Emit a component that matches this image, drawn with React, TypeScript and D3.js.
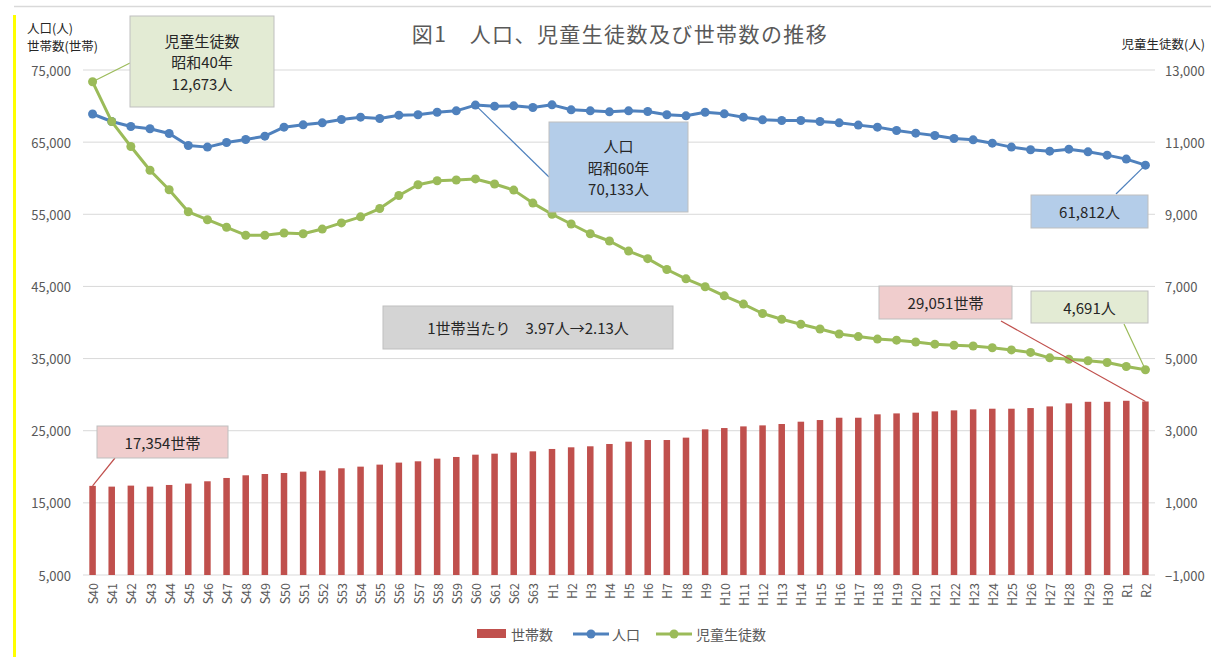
import React from 'react';
import * as d3 from 'd3';

const categories = [
  'S40', 'S41', 'S42', 'S43', 'S44', 'S45', 'S46', 'S47', 'S48', 'S49',
  'S50', 'S51', 'S52', 'S53', 'S54', 'S55', 'S56', 'S57', 'S58', 'S59',
  'S60', 'S61', 'S62', 'S63', 'H1', 'H2', 'H3', 'H4', 'H5', 'H6',
  'H7', 'H8', 'H9', 'H10', 'H11', 'H12', 'H13', 'H14', 'H15', 'H16',
  'H17', 'H18', 'H19', 'H20', 'H21', 'H22', 'H23', 'H24', 'H25', 'H26',
  'H27', 'H28', 'H29', 'H30', 'R1', 'R2',
];

// 世帯数 (left axis)
const households = [
  17354, 17250, 17390, 17250, 17480, 17670, 17990, 18450, 18820, 19000,
  19140, 19330, 19470, 19790, 20020, 20300, 20580, 20760, 21130, 21360,
  21680, 21820, 21960, 22140, 22470, 22700, 22840, 23160, 23480, 23710,
  23710, 24040, 25190, 25370, 25600, 25740, 25930, 26250, 26480, 26800,
  26800, 27270, 27400, 27500, 27680, 27820, 27960, 28050, 28050, 28140,
  28370, 28790, 29010, 29010, 29150, 29051,
];

// 人口 (left axis)
const population = [
  68900, 67860, 67170, 66850, 66200, 64540, 64310, 64950, 65370, 65830,
  67080, 67400, 67680, 68140, 68460, 68280, 68740, 68790, 69150, 69340,
  70133, 69990, 70030, 69800, 70170, 69480, 69340, 69200, 69340, 69250,
  68790, 68650, 69150, 68920, 68460, 68090, 68000, 68000, 67860, 67680,
  67360, 67080, 66620, 66250, 65920, 65510, 65320, 64860, 64310, 63940,
  63750, 64030, 63660, 63200, 62650, 61812,
];

// 児童生徒数 (right axis)
const students = [
  12673, 11570, 10880, 10220, 9680, 9070, 8850, 8640, 8420, 8420,
  8480, 8460, 8590, 8760, 8930, 9160, 9520, 9820, 9930, 9950,
  9980, 9840, 9670, 9310, 9000, 8730, 8460, 8260, 7980, 7770,
  7470, 7210, 6990, 6740, 6510, 6250, 6090, 5950, 5820, 5680,
  5610, 5540, 5510, 5460, 5400, 5370, 5350, 5300, 5240, 5170,
  5020, 4980, 4940, 4890, 4780, 4691,
];

const leftTicks = [5000, 15000, 25000, 35000, 45000, 55000, 65000, 75000];
const rightTicks = [-1000, 1000, 3000, 5000, 7000, 9000, 11000, 13000];

const RED = '#c0504d';
const BLUE = '#4f81bd';
const GREEN = '#9bbb59';
const TEXT = '#595959';
const FONT = '"Noto Sans CJK JP", "Noto Sans", sans-serif';

const W = 1211;
const H = 657;
const plot = { left: 83, right: 1155, top: 70, bottom: 575 };

const fmt = d3.format(',');

const App = () => {
  const x = d3.scaleBand<string>().domain(categories).range([plot.left, plot.right]);
  const yL = d3.scaleLinear().domain([5000, 75000]).range([plot.bottom, plot.top]);
  const yR = d3.scaleLinear().domain([-1000, 13000]).range([plot.bottom, plot.top]);
  const cx = (c: string) => (x(c) as number) + x.bandwidth() / 2;
  const barW = x.bandwidth() * 0.34;

  const popLine = d3.line<number>().x((_, i) => cx(categories[i])).y(d => yL(d));
  const stuLine = d3.line<number>().x((_, i) => cx(categories[i])).y(d => yR(d));

  const last = categories.length - 1;
  const first = categories[0];
  const lastCat = categories[last];
  const s60 = categories.indexOf('S60');

  const box = (
    bx: number, by: number, bw: number, bh: number, fill: string,
    lines: string[], lineGap = 21.5,
  ) => {
    const midY = by + bh / 2;
    const startY = midY - ((lines.length - 1) * lineGap) / 2;
    return (
      <g>
        <rect x={bx} y={by} width={bw} height={bh} fill={fill} stroke="#bfbfbf" strokeWidth={1} />
        {lines.map((t, i) => (
          <text key={i} x={bx + bw / 2} y={startY + i * lineGap} textAnchor="middle"
            dominantBaseline="central" fontSize={15} fill="#262626">{t}</text>
        ))}
      </g>
    );
  };

  return (
    <svg width={W} height={H} style={{ position: 'absolute', left: 0, top: 0, background: '#fff' }}
      fontFamily={FONT}>
      {/* frame */}
      <line x1={14} x2={W} y1={6.5} y2={6.5} stroke="#d9d9d9" strokeWidth={1.5} />
      <rect x={13} y={15} width={3} height={H - 15} fill="#ffff00" />

      {/* title */}
      <text x={620} y={33} textAnchor="middle" dominantBaseline="central" fontSize={21}
        fill={TEXT} letterSpacing={1.4}>図1　人口、児童生徒数及び世帯数の推移</text>

      {/* axis titles */}
      <text x={27} y={27.5} fontSize={12.5} fill="#262626" dominantBaseline="central">人口(人)</text>
      <text x={27} y={45} fontSize={12.5} fill="#262626" dominantBaseline="central">世帯数(世帯)</text>
      <text x={1205} y={43} fontSize={12.5} fill="#262626" textAnchor="end" dominantBaseline="central">児童生徒数(人)</text>

      {/* gridlines + ticks */}
      {leftTicks.map(t => (
        <g key={t}>
          <line x1={plot.left} x2={plot.right} y1={yL(t)} y2={yL(t)} stroke="#d9d9d9" strokeWidth={1} />
          <text x={71} y={yL(t)} textAnchor="end" dominantBaseline="central" fontSize={13} fill={TEXT}>{fmt(t)}</text>
        </g>
      ))}
      {rightTicks.map(t => (
        <text key={t} x={1165} y={yR(t)} dominantBaseline="central" fontSize={13} fill={TEXT}>{fmt(t)}</text>
      ))}

      {/* bars */}
      {households.map((v, i) => (
        <rect key={categories[i]} x={cx(categories[i]) - barW / 2} y={yL(v)} width={barW}
          height={yL(5000) - yL(v)} fill={RED} />
      ))}

      {/* x labels */}
      {categories.map(c => (
        <text key={c} transform={`translate(${cx(c)},${plot.bottom + 8}) rotate(-90)`}
          textAnchor="end" dominantBaseline="central" fontSize={12.5} fill={TEXT}>{c}</text>
      ))}

      {/* lines */}
      <path d={popLine(population) as string} fill="none" stroke={BLUE} strokeWidth={3} strokeLinejoin="round" />
      {population.map((v, i) => (
        <circle key={categories[i]} cx={cx(categories[i])} cy={yL(v)} r={4.5} fill={BLUE} />
      ))}
      <path d={stuLine(students) as string} fill="none" stroke={GREEN} strokeWidth={3} strokeLinejoin="round" />
      {students.map((v, i) => (
        <circle key={categories[i]} cx={cx(categories[i])} cy={yR(v)} r={4.5} fill={GREEN} />
      ))}

      {/* leader lines */}
      <line x1={cx(first)} y1={yR(students[0])} x2={130} y2={63} stroke={GREEN} strokeWidth={1.2} />
      <line x1={cx(categories[s60])} y1={yL(population[s60])} x2={549} y2={177} stroke={BLUE} strokeWidth={1.2} />
      <line x1={cx(lastCat)} y1={yL(population[last])} x2={1116} y2={194} stroke={BLUE} strokeWidth={1.2} />
      <line x1={cx(lastCat)} y1={yL(households[last])} x2={1001} y2={321} stroke={RED} strokeWidth={1.2} />
      <line x1={cx(lastCat)} y1={yR(students[last])} x2={1124} y2={324} stroke={GREEN} strokeWidth={1.2} />
      <line x1={cx(first)} y1={yL(households[0])} x2={115} y2={458} stroke={RED} strokeWidth={1.2} />

      {/* annotation boxes */}
      {box(130, 16, 144, 91, '#e3ebd4', ['児童生徒数', '昭和40年', `${fmt(students[0])}人`])}
      {box(549, 122, 139, 90, '#b4cde9', ['人口', '昭和60年', `${fmt(population[s60])}人`])}
      {box(1031, 195, 117, 33, '#b4cde9', [`${fmt(population[last])}人`])}
      {box(383, 306, 290, 43, '#d4d4d4', ['1世帯当たり　3.97人→2.13人'])}
      {box(879, 286, 133, 33, '#f0cdcd', [`${fmt(households[last])}世帯`])}
      {box(1031, 291, 117, 32, '#e3ebd4', [`${fmt(students[last])}人`])}
      {box(97, 426, 131, 32, '#f0cdcd', [`${fmt(households[0])}世帯`])}

      {/* legend */}
      <rect x={477} y={629} width={29} height={9} fill={RED} />
      <text x={511} y={634} dominantBaseline="central" fontSize={14} fill={TEXT}>世帯数</text>
      <line x1={573} x2={609} y1={634} y2={634} stroke={BLUE} strokeWidth={3} />
      <circle cx={591} cy={634} r={4.5} fill={BLUE} />
      <text x={612} y={634} dominantBaseline="central" fontSize={14} fill={TEXT}>人口</text>
      <line x1={656} x2={692} y1={634} y2={634} stroke={GREEN} strokeWidth={3} />
      <circle cx={674} cy={634} r={4.5} fill={GREEN} />
      <text x={696} y={634} dominantBaseline="central" fontSize={14} fill={TEXT}>児童生徒数</text>
    </svg>
  );
};

export default App;
